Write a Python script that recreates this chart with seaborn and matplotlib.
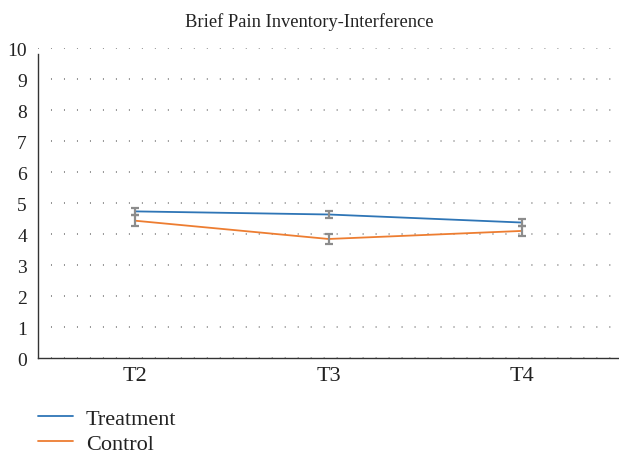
import numpy as np
import pandas as pd
import matplotlib
matplotlib.use("Agg")
import matplotlib.pyplot as plt
import seaborn as sns

# values
timepoints = ["T2", "T3", "T4"]
treatment_mean = [4.73, 4.63, 4.37]
treatment_err = [0.11, 0.11, 0.10]
control_mean = [4.43, 3.84, 4.10]
control_err = [0.18, 0.17, 0.17]
groups = ["Treatment", "Control"]
colors = {"Treatment": "#2E75B6", "Control": "#ED7D31"}

df = pd.DataFrame({
    "time": timepoints * 2,
    "score": treatment_mean + control_mean,
    "err": treatment_err + control_err,
    "group": [groups[0]] * 3 + [groups[1]] * 3,
})

sns.set_theme(style="white")
plt.rcParams["font.family"] = ["Liberation Serif", "DejaVu Serif"]
plt.rcParams["text.color"] = "#222222"

fig = plt.figure(figsize=(6.19, 4.56), dpi=100)
ax = fig.add_axes([0.0614, 0.2127, 0.9386, 0.6798])

sns.lineplot(data=df, x="time", y="score", hue="group", palette=colors,
             errorbar=None, linewidth=1.3, ax=ax, legend=False, zorder=3)

# error bars, drawn separately as gray caps
xpos = np.arange(len(timepoints))
for g in groups:
    sub = df[df.group == g]
    ax.errorbar(xpos, sub["score"], yerr=sub["err"], fmt="none",
                ecolor="#8c8c8c", elinewidth=1.6, capsize=3.0, capthick=1.6,
                zorder=4)

ax.set_xlim(-0.5, 2.5)
ax.set_ylim(0, 10)
ax.set_yticks(range(0, 11))
ax.yaxis.grid(True, color="#666666", linestyle=(0, (0.6, 7.9)), linewidth=1.1)
ax.xaxis.grid(False)
ax.set_axisbelow(True)
for side in ["top", "right"]:
    ax.spines[side].set_visible(False)
for side in ["left", "bottom"]:
    ax.spines[side].set_color("#333333")
    ax.spines[side].set_linewidth(1.0)
ax.spines["left"].set_bounds(0, 9.8)
ax.tick_params(axis="both", length=0, colors="#222222")
ax.tick_params(axis="y", labelsize=14, pad=8)
ax.tick_params(axis="x", labelsize=16, pad=6)
ax.set_xlabel("")
ax.set_ylabel("")
fig.suptitle("Brief Pain Inventory-Interference", fontsize=13.3,
             x=0.5, y=1 - 22 / 456, va="center", color="#222222")

handles = [plt.Line2D([], [], color=colors[g], linewidth=1.3) for g in groups]
fig.legend(handles, groups, loc="upper left", bbox_to_anchor=(0.0614, 0.103),
           frameon=False, fontsize=16, handlelength=1.58, handletextpad=0.58,
           labelspacing=0.22, borderpad=0, borderaxespad=0)

fig.savefig("out.png", dpi=100)
